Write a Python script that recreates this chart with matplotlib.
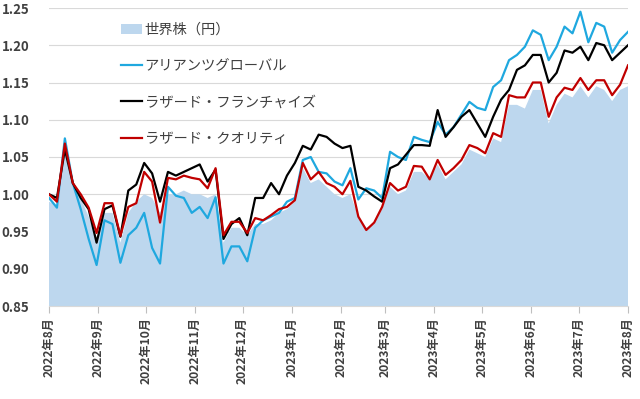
import matplotlib
matplotlib.use("Agg")
import matplotlib.pyplot as plt
import pandas as pd

plt.rcParams['font.family'] = ['Noto Sans CJK JP', 'DejaVu Sans']

dates = pd.date_range('2022-08-01', periods=74, freq='5D')

world = [0.99, 0.985, 1.055, 1.01, 0.995, 0.97, 0.94, 0.975, 0.975, 0.935,
         0.975, 0.99, 1.0, 0.995, 0.975, 1.0, 1.0, 1.005, 1.0, 1.0,
         0.995, 1.0, 0.935, 0.955, 0.955, 0.945, 0.96, 0.96, 0.965, 0.975,
         0.98, 0.99, 1.035, 1.015, 1.02, 1.01, 1.0, 0.995, 1.0, 0.97,
         0.955, 0.96, 0.98, 1.01, 1.0, 1.005, 1.03, 1.03, 1.02, 1.04,
         1.02, 1.03, 1.04, 1.06, 1.055, 1.05, 1.075, 1.07, 1.12, 1.12,
         1.115, 1.14, 1.14, 1.095, 1.12, 1.135, 1.13, 1.145, 1.13, 1.145,
         1.14, 1.125, 1.14, 1.145]

allianz = [0.995, 0.982, 1.075, 1.015, 0.98, 0.94, 0.905, 0.965, 0.96, 0.908,
           0.945, 0.955, 0.975, 0.928, 0.907, 1.01, 0.998, 0.995, 0.975, 0.983,
           0.968, 0.996, 0.907, 0.93, 0.93, 0.91, 0.955, 0.965, 0.97, 0.975,
           0.99, 0.995, 1.046, 1.05, 1.03, 1.028, 1.017, 1.012, 1.035, 0.993,
           1.008, 1.005, 0.995, 1.057, 1.05, 1.046, 1.077, 1.073, 1.07, 1.097,
           1.08, 1.09, 1.107, 1.124, 1.116, 1.113, 1.144, 1.153, 1.18, 1.187,
           1.198, 1.22, 1.214, 1.18, 1.198, 1.225, 1.216, 1.245, 1.204, 1.23,
           1.225, 1.19, 1.207, 1.218]

franchise = [1.0, 0.995, 1.06, 1.015, 0.995, 0.98, 0.935, 0.98, 0.985, 0.943,
             1.005, 1.013, 1.042, 1.028, 0.99, 1.03, 1.025, 1.03, 1.035, 1.04,
             1.017, 1.033, 0.94, 0.96, 0.968, 0.945, 0.995, 0.995, 1.015, 1.0,
             1.025, 1.042, 1.065, 1.06, 1.08, 1.077, 1.068, 1.062, 1.065, 1.01,
             1.005, 0.997, 0.99, 1.035, 1.04, 1.053, 1.066, 1.066, 1.065, 1.113,
             1.077, 1.09, 1.104, 1.113, 1.095, 1.077, 1.104, 1.127, 1.14, 1.167,
             1.173, 1.187, 1.187, 1.15, 1.163, 1.193, 1.19, 1.198, 1.18, 1.203,
             1.2, 1.18, 1.19, 1.2]

quality = [1.0, 0.99, 1.068, 1.015, 1.0, 0.982, 0.948, 0.988, 0.988, 0.944,
           0.983, 0.988, 1.03, 1.017, 0.962, 1.022, 1.02, 1.025, 1.022, 1.02,
           1.008, 1.035, 0.945, 0.963, 0.963, 0.948, 0.968, 0.965, 0.972, 0.98,
           0.983, 0.992, 1.042, 1.02, 1.03, 1.015, 1.01, 1.0, 1.018, 0.97,
           0.952, 0.962, 0.983, 1.015, 1.005, 1.01, 1.038, 1.037, 1.02, 1.046,
           1.026, 1.035, 1.046, 1.066, 1.062, 1.055, 1.082, 1.077, 1.133, 1.13,
           1.13, 1.15, 1.15, 1.104, 1.13, 1.143, 1.14, 1.156, 1.14, 1.153,
           1.153, 1.133, 1.147, 1.173]

labels = ['世界株（円）', 'アリアンツグローバル', 'ラザード・フランチャイズ', 'ラザード・クオリティ']
yticks = [0.85, 0.90, 0.95, 1.00, 1.05, 1.10, 1.15, 1.20, 1.25]
month_ticks = pd.date_range('2022-08-01', '2023-08-01', freq='MS')
month_labels = [f'{d.year}年{d.month}月' for d in month_ticks]

fig = plt.figure(figsize=(6.4, 3.99), dpi=100)
ax = fig.add_axes([49/640, 1 - 306/399, (628-49)/640, (306-8)/399])

ax.fill_between(dates, world, 0, color='#BDD7EE', lw=0, label=labels[0], zorder=1)
ax.plot(dates, allianz, color='#1FA8DF', lw=1.6, label=labels[1], zorder=3)
ax.plot(dates, franchise, color='#000000', lw=1.6, label=labels[2], zorder=4)
ax.plot(dates, quality, color='#C00000', lw=1.6, label=labels[3], zorder=5)

ax.set_xlim(month_ticks[0], month_ticks[-1])
ax.set_ylim(0.85, 1.25)
ax.set_yticks(yticks)
ax.set_yticklabels([f'{v:.2f}' for v in yticks], fontsize=9.5, fontweight='bold', color='#404040')
ax.set_xticks(month_ticks)
ax.set_xticklabels(month_labels, rotation=90, fontsize=8.7, fontweight='bold', color='#404040',
                   ha='center', va='top')
ax.tick_params(axis='y', length=0, pad=14)
ax.tick_params(axis='x', length=5, color='#BFBFBF', pad=3)
ax.grid(axis='y', color='#D9D9D9', lw=0.8)
ax.set_axisbelow(True)
for s in ['left', 'right', 'top']:
    ax.spines[s].set_visible(False)
ax.spines['bottom'].set_color('#D9D9D9')

leg = fig.legend(loc='upper left', bbox_to_anchor=(121/640, 1 - 23/399), frameon=False,
                 fontsize=10.3, handlelength=1.5, handletextpad=0.15, labelspacing=1.55,
                 borderpad=0, borderaxespad=0)
for t in leg.get_texts():
    t.set_color('#404040')

fig.savefig('out.png', dpi=100)
